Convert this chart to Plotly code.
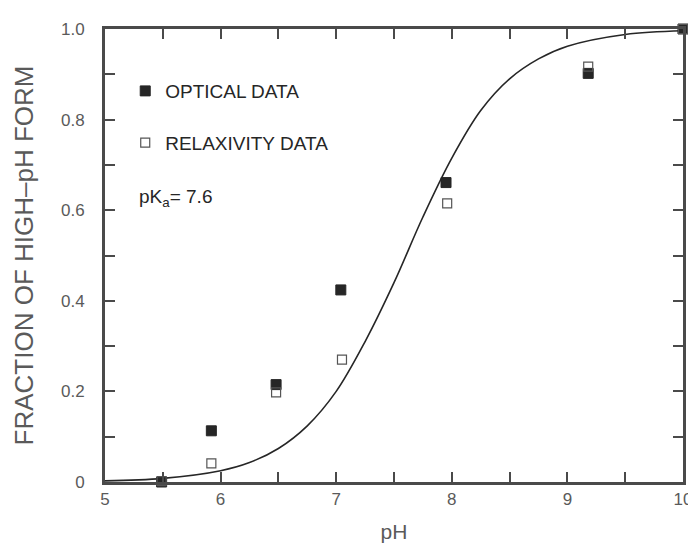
import plotly.graph_objects as go

# Data
optical_ph = [5.49, 5.92, 6.48, 7.04, 7.95, 9.18, 10.0]
optical_frac = [0.0, 0.113, 0.215, 0.424, 0.661, 0.902, 1.0]

relax_ph = [5.49, 5.92, 6.48, 7.05, 7.96, 9.18, 10.0]
relax_frac = [0.002, 0.041, 0.198, 0.27, 0.615, 0.917, 1.0]

# fitted titration curve (pKa = 7.6)
curve_ph = [5.0, 5.5, 6.0, 6.25, 6.5, 6.75, 7.0, 7.25, 7.5, 7.75, 8.0,
            8.25, 8.5, 8.75, 9.0, 9.5, 10.0]
curve_frac = [0.0025, 0.008, 0.025, 0.043, 0.074, 0.124, 0.20, 0.31, 0.44,
              0.585, 0.715, 0.82, 0.89, 0.934, 0.962, 0.988, 0.996]

x_ticks = [5, 6, 7, 8, 9, 10]
x_ticklabels = ["5", "6", "7", "8", "9", "10"]
y_ticks = [0, 0.2, 0.4, 0.6, 0.8, 1.0]
y_ticklabels = ["0", "0.2", "0.4", "0.6", "0.8", "1.0"]

ink = "#262626"
axis_ink = "#4a4a4a"
label_ink = "#5a5a5a"
font_family = "Liberation Sans, Arial, sans-serif"

fig = go.Figure()

fig.add_trace(go.Scatter(
    x=curve_ph, y=curve_frac, mode="lines", line=dict(color=ink, width=1.6, shape="spline"),
    showlegend=False, hoverinfo="skip"))

fig.add_trace(go.Scatter(
    x=optical_ph, y=optical_frac, mode="markers", name="OPTICAL DATA",
    legendgroup="a", cliponaxis=False,
    marker=dict(symbol="square", size=10, color=ink, line=dict(color=ink, width=1))))

fig.add_trace(go.Scatter(
    x=relax_ph, y=relax_frac, mode="markers", name="RELAXIVITY DATA",
    legendgroup="b", cliponaxis=False,
    marker=dict(symbol="square-open", size=9, color="#555555", line=dict(width=1.2))))

fig.add_annotation(
    x=0.056, y=0.627, xref="paper", yref="paper", xanchor="left", yanchor="middle",
    text="pK<sub>a</sub>= 7.6", showarrow=False,
    font=dict(family=font_family, size=19, color=ink))

axis_common = dict(
    showline=True, linecolor=axis_ink, linewidth=3, mirror="ticks",
    ticks="inside", ticklen=10, tickwidth=1.5, tickcolor=axis_ink,
    showgrid=False, zeroline=False,
    tickfont=dict(family=font_family, size=17, color=label_ink),
)

fig.update_layout(
    width=696, height=547,
    margin=dict(l=97, r=13, t=14, b=73),
    paper_bgcolor="white", plot_bgcolor="white",
    font=dict(family=font_family, color=ink),
    xaxis=dict(
        range=[5, 10], tickvals=x_ticks, ticktext=x_ticklabels,
        minor=dict(dtick=0.5, ticks="inside", ticklen=10, tickcolor=axis_ink, tickwidth=1.5),
        title=dict(text="pH", font=dict(family=font_family, size=21, color=label_ink), standoff=16),
        ticklabelstandoff=0,
        **axis_common),
    yaxis=dict(
        range=[0, 1.0], tickvals=y_ticks, ticktext=y_ticklabels,
        minor=dict(dtick=0.1, ticks="inside", ticklen=10, tickcolor=axis_ink, tickwidth=1.5),
        title=dict(text="FRACTION OF HIGH\u2013pH FORM",
                   font=dict(family=font_family, size=26, color=label_ink), standoff=20),
        ticklabelstandoff=14,
        **axis_common),
    legend=dict(
        x=0.035, y=0.905, xanchor="left", yanchor="top",
        bgcolor="rgba(0,0,0,0)", traceorder="grouped", tracegroupgap=24,
        font=dict(family=font_family, size=19, color=ink),
        itemwidth=30),
)

fig.write_html("out.html")
